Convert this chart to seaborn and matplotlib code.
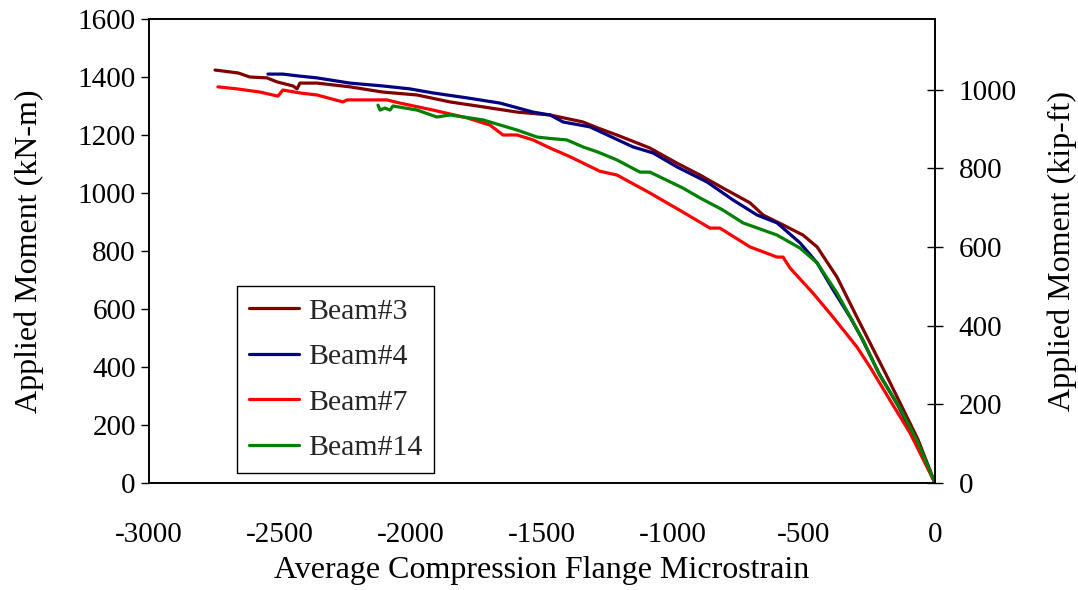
import numpy as np
import pandas as pd
import matplotlib
matplotlib.use("Agg")
import matplotlib.pyplot as plt
import seaborn as sns

beam3_x = [-2748, -2660, -2615, -2550, -2511, -2450, -2435, -2424, -2359, -2233, -2107, -1977,
           -1851, -1725, -1595, -1469, -1344, -1286, -1214, -1088, -985, -897, -809, -706,
           -656, -580, -504, -450, -374, -298, -248, -190, -130, -65, 0]
beam3_y = [1424, 1414, 1400, 1397, 1383, 1369, 1359, 1379, 1379, 1366, 1348, 1338,
           1314, 1297, 1279, 1269, 1245, 1224, 1200, 1155, 1103, 1062, 1017, 966,
           924, 890, 855, 814, 710, 572, 483, 380, 270, 150, 0]

beam4_x = [-2546, -2489, -2424, -2359, -2233, -2107, -2004, -1916, -1786, -1660, -1534, -1469,
           -1420, -1317, -1267, -1153, -1076, -985, -870, -771, -679, -603, -515, -450,
           -389, -324, -280, -215, -140, -70, 0]
beam4_y = [1410, 1410, 1403, 1397, 1379, 1369, 1359, 1345, 1328, 1310, 1279, 1269,
           1245, 1228, 1207, 1159, 1138, 1090, 1038, 976, 924, 897, 828, 759,
           666, 572, 500, 380, 265, 140, 0]

beam7_x = [-2737, -2664, -2576, -2508, -2489, -2424, -2359, -2260, -2244, -2092, -2042, -1916,
           -1786, -1698, -1649, -1595, -1534, -1469, -1393, -1279, -1214, -1088, -962, -859,
           -821, -706, -603, -580, -553, -466, -389, -298, -248, -172, -95, 0]
beam7_y = [1366, 1359, 1348, 1334, 1355, 1345, 1338, 1314, 1321, 1321, 1310, 1286,
           1259, 1234, 1200, 1200, 1183, 1155, 1125, 1075, 1062, 1000, 934, 879,
           879, 814, 779, 779, 741, 655, 572, 469, 400, 286, 172, 0]

beam14_x = [-2126, -2118, -2100, -2080, -2069, -1977, -1901, -1851, -1725, -1595, -1519, -1469,
            -1405, -1344, -1286, -1214, -1126, -1088, -962, -897, -809, -733, -603, -515,
            -450, -374, -275, -210, -135, -68, 0]
beam14_y = [1303, 1286, 1293, 1286, 1300, 1286, 1262, 1269, 1252, 1217, 1193, 1188,
            1183, 1159, 1141, 1114, 1072, 1072, 1017, 983, 941, 897, 855, 810,
            759, 655, 493, 370, 260, 145, 0]

labels = ["Beam#3", "Beam#4", "Beam#7", "Beam#14"]
colors = ["#800000", "#000080", "#FF0000", "#008000"]
KNM_PER_KIPFT = 1.3558

frames = []
for lab, xs, ys in zip(labels, [beam3_x, beam4_x, beam7_x, beam14_x],
                       [beam3_y, beam4_y, beam7_y, beam14_y]):
    frames.append(pd.DataFrame({"x": xs, "y": ys, "beam": lab}))
df = pd.concat(frames, ignore_index=True)

sns.set_theme(style="white")
plt.rcParams["font.family"] = ["Liberation Serif", "DejaVu Serif"]
plt.rcParams["axes.unicode_minus"] = False

TICK_FS = 21
LABEL_FS = 23

fig = plt.figure(figsize=(10.78, 5.90), dpi=100)
ax = fig.add_axes([149/1078, (590-483)/590, (935-149)/1078, (483-19)/590])

sns.lineplot(data=df, x="x", y="y", hue="beam", palette=dict(zip(labels, colors)),
             hue_order=labels, sort=False, estimator=None, units="beam",
             linewidth=2.3, ax=ax)

ax.set_xlim(-3000, 0)
ax.set_ylim(0, 1600)
ax.set_xticks(np.arange(-3000, 1, 500))
ax.set_yticks(np.arange(0, 1601, 200))
ax.set_xlabel("Average Compression Flange Microstrain", fontsize=LABEL_FS, color="black", labelpad=6)
ax.set_ylabel("Applied Moment (kN-m)", fontsize=LABEL_FS, color="black", labelpad=24)
ax.tick_params(axis="both", labelsize=TICK_FS, colors="black", direction="out", length=6, width=1)
ax.tick_params(axis="x", pad=22)
for sp in ax.spines.values():
    sp.set_color("black")
    sp.set_linewidth(1.2)

ax2 = ax.twinx()
ax2.set_ylim(0, 1600 / KNM_PER_KIPFT)
ax2.set_yticks(np.arange(0, 1001, 200))
ax2.set_ylabel("Applied Moment (kip-ft)", fontsize=LABEL_FS, color="black", labelpad=22)
ax2.tick_params(axis="y", labelsize=TICK_FS, colors="black", direction="inout", length=12, width=1, pad=11)
for sp in ax2.spines.values():
    sp.set_color("black")
    sp.set_linewidth(1.2)

leg = ax.legend(loc="lower left", bbox_to_anchor=(0.112, 0.0216), borderaxespad=0, fontsize=21.5,
                frameon=True, fancybox=False, framealpha=1, edgecolor="black",
                handlelength=1.67, handletextpad=0.3, labelspacing=0.62, borderpad=0.4)
leg.get_frame().set_linewidth(1.0)
for line in leg.get_lines():
    line.set_linewidth(2.3)

fig.savefig("out.png", dpi=100)
